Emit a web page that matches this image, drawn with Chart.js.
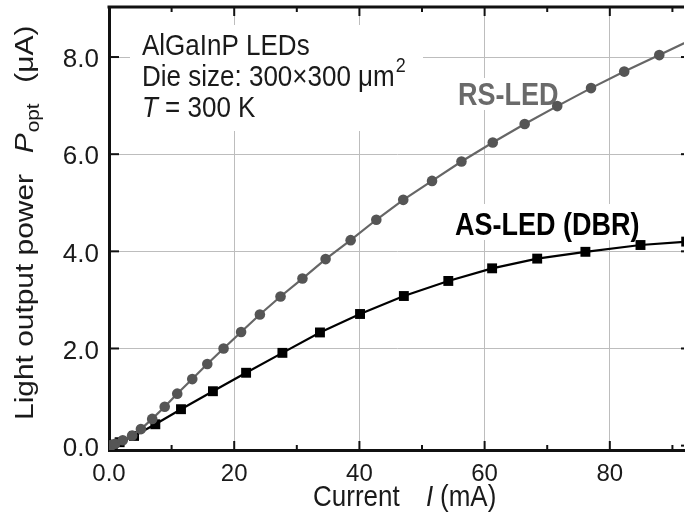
<!DOCTYPE html>
<html><head><meta charset="utf-8">
<script src="https://cdn.jsdelivr.net/npm/chart.js@4/dist/chart.umd.min.js"></script>
<style>
html,body{margin:0;padding:0;background:#fff;overflow:hidden;}
#c{display:block;}
</style></head><body>
<canvas id="c" width="691" height="523"></canvas>
<script>
// ---- data ----
const rsCurrent = [0, 0.4, 1.0, 2.2, 3.7, 5.1, 6.9, 8.9, 10.9, 13.3, 15.7, 18.3, 21.1, 24.1, 27.4, 30.9, 34.6, 38.6, 42.7, 47.0, 51.6, 56.3, 61.3, 66.4, 71.6, 77.0, 82.3, 87.9, 93.4];
const rsPower   = [0, 0.01, 0.04, 0.11, 0.21, 0.34, 0.55, 0.80, 1.07, 1.37, 1.68, 2.00, 2.34, 2.70, 3.07, 3.44, 3.84, 4.23, 4.65, 5.06, 5.45, 5.85, 6.24, 6.62, 6.99, 7.36, 7.70, 8.04, 8.38];
const asCurrent = [0, 0.6, 1.7, 4.0, 7.4, 11.5, 16.6, 21.9, 27.7, 33.7, 40.1, 47.1, 54.2, 61.2, 68.4, 76.1, 84.9, 92.2];
const asPower   = [0, 0.02, 0.07, 0.20, 0.44, 0.75, 1.12, 1.50, 1.91, 2.33, 2.71, 3.08, 3.39, 3.65, 3.85, 3.99, 4.13, 4.20];
const xTickValues = [0, 10, 20, 30, 40, 50, 60, 70, 80, 90];
const xLabelValues = [0, 20, 40, 60, 80];
const yTickValues = [0, 2, 4, 6, 8];
const seriesNames = ['RS-LED', 'AS-LED (DBR)'];
const noteLines = ['AlGaInP LEDs', 'Die size: 300\u00d7300 \u03bcm', 'T = 300 K'];
const xTitle = ['Current', 'I', '(mA)'];
const yTitle = ['Light output power', 'P', 'opt', '(\u03bcA)'];

const FONT = '"Liberation Sans", Arial, Helvetica, sans-serif';
const TXT = '#1a1a1a';
const STRETCH = 1.13; // reference lettering is slightly tall

function pts(xs, ys) { return xs.map((v, i) => ({x: v, y: ys[i]})); }
function tallText(ctx, str, x, y) {
  ctx.save(); ctx.translate(x, y); ctx.scale(1, STRETCH); ctx.fillText(str, 0, 0); ctx.restore();
}

const decor = {
  id: 'decor',
  beforeDatasetsDraw(chart) {
    const ctx = chart.ctx, a = chart.chartArea, sx = chart.scales.x, sy = chart.scales.y;
    ctx.save();
    // frame top
    ctx.strokeStyle = '#111'; ctx.lineWidth = 3;
    ctx.beginPath(); ctx.moveTo(a.left - 1.5, a.top); ctx.lineTo(a.right, a.top); ctx.stroke();
    // inward tick marks
    ctx.lineWidth = 2;
    xTickValues.forEach(v => {
      const px = sx.getPixelForValue(v);
      const len = xLabelValues.includes(v) ? 9 : 5;
      ctx.beginPath(); ctx.moveTo(px, a.bottom); ctx.lineTo(px, a.bottom - len); ctx.stroke();
      ctx.beginPath(); ctx.moveTo(px, a.top); ctx.lineTo(px, a.top + len); ctx.stroke();
    });
    yTickValues.forEach(v => {
      const py = sy.getPixelForValue(v);
      ctx.beginPath(); ctx.moveTo(a.left, py); ctx.lineTo(a.left + 10, py); ctx.stroke();
      ctx.beginPath(); ctx.moveTo(a.right, py); ctx.lineTo(a.right - 3, py); ctx.stroke();
    });

    // annotation block
    ctx.fillStyle = '#fff';
    ctx.fillRect(130, 25, 293, 106);
    ctx.fillStyle = TXT; ctx.textBaseline = 'alphabetic'; ctx.textAlign = 'left';
    const fs = 26;
    ctx.font = fs + 'px ' + FONT;
    tallText(ctx, noteLines[0], 142, 55);
    tallText(ctx, noteLines[1], 142, 86);
    let w = ctx.measureText(noteLines[1]).width;
    ctx.font = '18px ' + FONT;
    tallText(ctx, '2', 142 + w + 1, 72);
    ctx.font = 'italic ' + fs + 'px ' + FONT;
    tallText(ctx, 'T', 142, 117);
    w = ctx.measureText('T').width;
    ctx.font = fs + 'px ' + FONT;
    tallText(ctx, noteLines[2].slice(1), 142 + w, 117);

    // series labels
    ctx.font = 'bold 27px ' + FONT;
    w = ctx.measureText(seriesNames[0]).width;
    ctx.fillStyle = '#fff'; ctx.fillRect(452, 78, w + 10, 32);
    ctx.fillStyle = '#6a6a6a'; tallText(ctx, seriesNames[0], 458, 105);
    w = ctx.measureText(seriesNames[1]).width;
    ctx.fillStyle = '#fff'; ctx.fillRect(448, 204, w + 14, 36);
    ctx.fillStyle = '#000'; tallText(ctx, seriesNames[1], 455, 235);

    // x title
    ctx.fillStyle = TXT;
    ctx.font = '26px ' + FONT;
    tallText(ctx, xTitle[0], 313, 506);
    ctx.font = 'italic 26px ' + FONT;
    tallText(ctx, xTitle[1], 426, 506);
    ctx.font = '26px ' + FONT;
    tallText(ctx, xTitle[2], 440, 506);

    // y title (rotated, stretched along its length like the reference)
    ctx.save();
    ctx.translate(33, 420);
    ctx.rotate(-Math.PI / 2);
    ctx.scale(STRETCH + 0.02, 1);
    let pos = 0;
    ctx.font = '26px ' + FONT;
    ctx.fillText(yTitle[0], pos, 0); pos += ctx.measureText(yTitle[0]).width + 18;
    ctx.font = 'italic 26px ' + FONT;
    ctx.fillText(yTitle[1], pos, 0); pos += ctx.measureText(yTitle[1]).width + 1;
    ctx.font = '18px ' + FONT;
    ctx.fillText(yTitle[2], pos, 6); pos += ctx.measureText(yTitle[2]).width + 18;
    ctx.font = '26px ' + FONT;
    ctx.fillText(yTitle[3], pos, 0);
    ctx.restore();

    ctx.restore();
  }
};

new Chart(document.getElementById('c'), {
  type: 'line',
  data: {
    datasets: [
      { label: seriesNames[0], data: pts(rsCurrent, rsPower), borderColor: '#666', borderWidth: 2.2,
        pointRadius: 5.3, pointHoverRadius: 5.3, pointBackgroundColor: '#555', pointBorderWidth: 0, tension: 0 },
      { label: seriesNames[1], data: pts(asCurrent, asPower), borderColor: '#000', borderWidth: 2.2,
        pointStyle: 'rect', pointRadius: 7, pointHoverRadius: 7, pointBackgroundColor: '#000', pointBorderWidth: 0, tension: 0 }
    ]
  },
  options: {
    responsive: false, maintainAspectRatio: false, animation: false, devicePixelRatio: 1,
    layout: { padding: { top: 7, left: 0, right: 0, bottom: 0 } },
    plugins: { legend: { display: false }, tooltip: { enabled: false } },
    scales: {
      x: {
        type: 'linear', min: 0, max: 91.85,
        afterFit(s) { s.height = 73; s.paddingLeft = 0; s.paddingRight = 0; },
        border: { display: true, color: '#111', width: 3 },
        grid: { drawTicks: false, lineWidth: 1,
          color: c => (c.tick && xLabelValues.includes(c.tick.value) && c.tick.value !== 0) ? '#bdbdbd' : 'rgba(0,0,0,0)' },
        ticks: { stepSize: 10, includeBounds: false, autoSkip: false, maxRotation: 0, padding: 10,
          color: TXT, font: { family: FONT, size: 24 },
          callback: v => xLabelValues.includes(v) ? (v === 0 ? '0.0' : String(v)) : '' }
      },
      y: {
        type: 'linear', min: -0.09, max: 9.03,
        afterFit(s) { s.width = 109; s.paddingTop = 0; s.paddingBottom = 0; },
        border: { display: true, color: '#111', width: 3 },
        grid: { drawTicks: false, lineWidth: 1,
          color: c => (c.tick && yTickValues.includes(c.tick.value) && c.tick.value !== 0) ? '#bdbdbd' : 'rgba(0,0,0,0)' },
        ticks: { stepSize: 2, includeBounds: false, padding: 10, labelOffset: 3, color: TXT, font: { family: FONT, size: 26 },
          callback: v => v.toFixed(1) }
      }
    }
  },
  plugins: [decor]
});
</script>
</body></html>
